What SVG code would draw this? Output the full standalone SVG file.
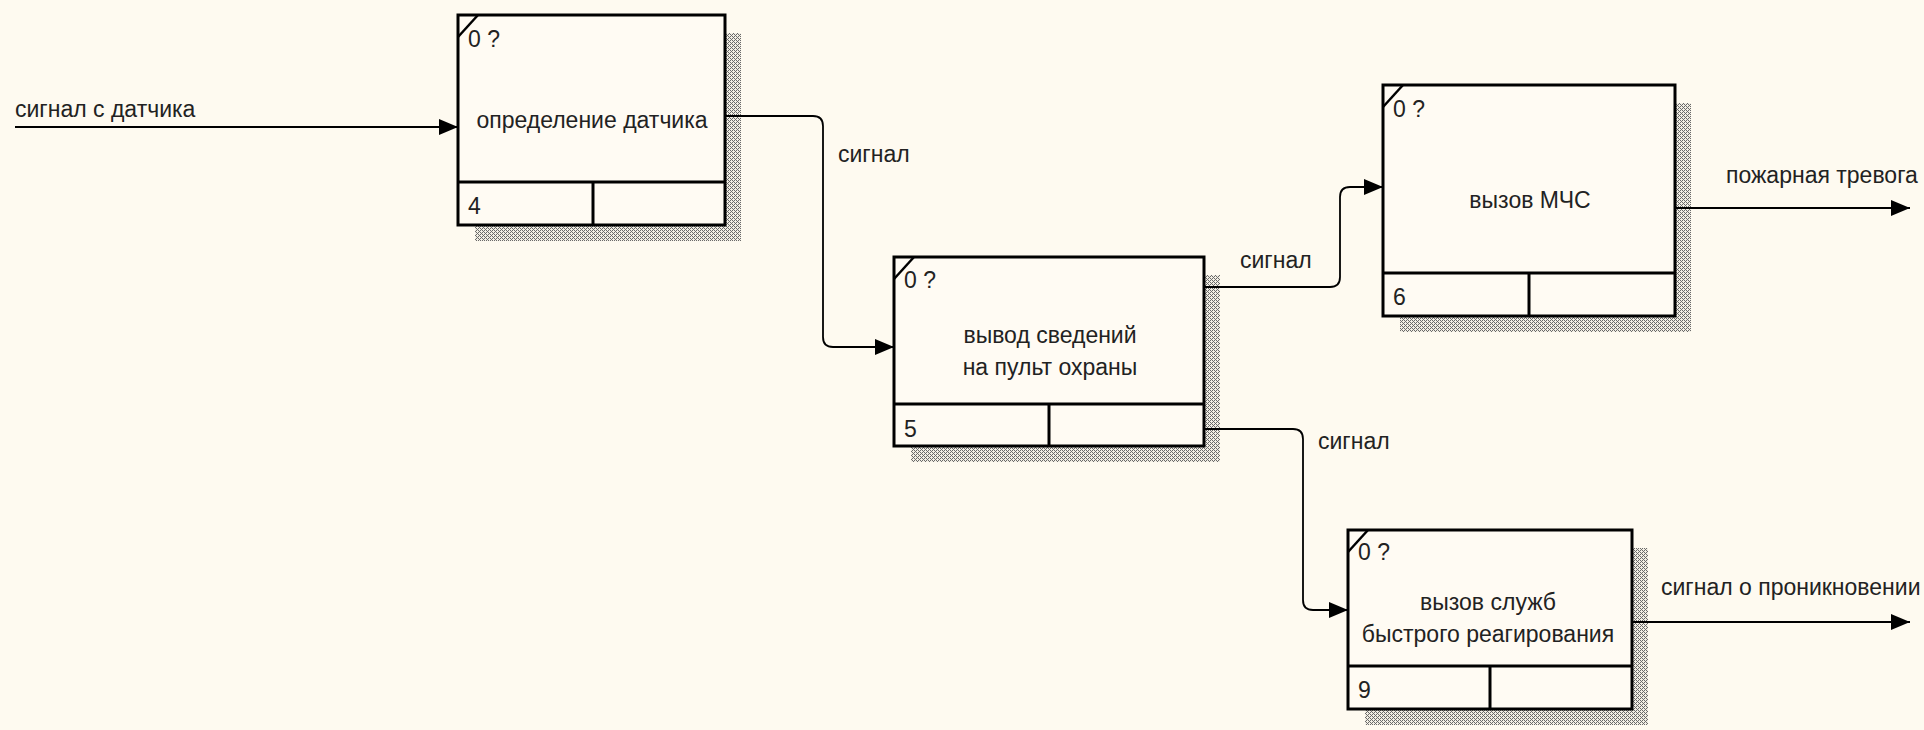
<svg xmlns="http://www.w3.org/2000/svg" width="1924" height="730" viewBox="0 0 1924 730">
<style>
.bg{fill:#FEFAF0}
.box{fill:#FFFBF3;stroke:#000;stroke-width:3}
.div{stroke:#000;stroke-width:3;fill:none}
.tick{stroke:#000;stroke-width:2.5}
.shadow{fill:url(#hatch)}
.t{font-family:"Liberation Sans",Arial,sans-serif;font-size:23px;fill:#222}
.c{text-anchor:middle}
.conn{fill:none;stroke:#000;stroke-width:1.8}
</style>
<defs>
<pattern id="hatch" width="4" height="4" patternUnits="userSpaceOnUse">
<rect width="4" height="4" fill="#F2EEE4"/>
<rect x="0" y="0" width="1" height="1" fill="#6A6A6A"/>
<rect x="1" y="1" width="1" height="1" fill="#6A6A6A"/>
<rect x="2" y="2" width="1" height="1" fill="#6A6A6A"/>
<rect x="3" y="3" width="1" height="1" fill="#6A6A6A"/>
<rect x="2" y="0" width="1" height="1" fill="#6A6A6A"/>
<rect x="0" y="2" width="1" height="1" fill="#6A6A6A"/>
</pattern>
<marker id="arr" markerWidth="19" markerHeight="16" refX="19" refY="8" orient="auto" markerUnits="userSpaceOnUse">
<path d="M0,0 L19,8 L0,16 z" fill="#000"/>
</marker>
</defs>
<rect class="bg" x="0" y="0" width="1924" height="730"/>

<g id="node1">
<rect class="shadow" x="475" y="33" width="266" height="208"/>
<rect class="box" x="458" y="15" width="267" height="210"/>
<line class="div" x1="458" y1="182" x2="725" y2="182"/>
<line class="div" x1="593" y1="182" x2="593" y2="225"/>
<line class="tick" x1="458" y1="37" x2="478" y2="15"/>
<text class="t" x="468" y="47">0 ?</text>
<text class="t c" x="592" y="128">определение датчика</text>
<text class="t" x="468" y="214">4</text>
</g>

<g id="node2">
<rect class="shadow" x="911" y="275" width="309" height="187"/>
<rect class="box" x="894" y="257" width="310" height="189"/>
<line class="div" x1="894" y1="404" x2="1204" y2="404"/>
<line class="div" x1="1049" y1="404" x2="1049" y2="446"/>
<line class="tick" x1="894" y1="279" x2="914" y2="257"/>
<text class="t" x="904" y="288">0 ?</text>
<text class="t c" x="1050" y="343">вывод сведений</text>
<text class="t c" x="1050" y="375">на пульт охраны</text>
<text class="t" x="904" y="437">5</text>
</g>

<g id="node3">
<rect class="shadow" x="1400" y="103" width="291" height="229"/>
<rect class="box" x="1383" y="85" width="292" height="231"/>
<line class="div" x1="1383" y1="273" x2="1675" y2="273"/>
<line class="div" x1="1529" y1="273" x2="1529" y2="316"/>
<line class="tick" x1="1383" y1="107" x2="1403" y2="85"/>
<text class="t" x="1393" y="117">0 ?</text>
<text class="t c" x="1530" y="208">вызов МЧС</text>
<text class="t" x="1393" y="305">6</text>
</g>

<g id="node4">
<rect class="shadow" x="1365" y="548" width="283" height="177"/>
<rect class="box" x="1348" y="530" width="284" height="179"/>
<line class="div" x1="1348" y1="666" x2="1632" y2="666"/>
<line class="div" x1="1490" y1="666" x2="1490" y2="709"/>
<line class="tick" x1="1348" y1="552" x2="1368" y2="530"/>
<text class="t" x="1358" y="560">0 ?</text>
<text class="t c" x="1488" y="610">вызов служб</text>
<text class="t c" x="1488" y="642">быстрого реагирования</text>
<text class="t" x="1358" y="698">9</text>
</g>

<g id="connectors">
<path class="conn" marker-end="url(#arr)" d="M15,127 H458"/>
<text class="t" x="15" y="117">сигнал с датчика</text>

<path class="conn" marker-end="url(#arr)" d="M725,116 H813 Q823,116 823,126 V337 Q823,347 833,347 H894"/>
<text class="t" x="838" y="162">сигнал</text>

<path class="conn" marker-end="url(#arr)" d="M1204,287 H1330 Q1340,287 1340,277 V197 Q1340,187 1350,187 H1383"/>
<text class="t" x="1240" y="268">сигнал</text>

<path class="conn" marker-end="url(#arr)" d="M1204,429 H1293 Q1303,429 1303,439 V600 Q1303,610 1313,610 H1348"/>
<text class="t" x="1318" y="449">сигнал</text>

<path class="conn" marker-end="url(#arr)" d="M1675,208 H1910"/>
<text class="t" x="1726" y="183">пожарная тревога</text>

<path class="conn" marker-end="url(#arr)" d="M1632,622 H1910"/>
<text class="t" x="1661" y="595">сигнал о проникновении</text>
</g>
</svg>
